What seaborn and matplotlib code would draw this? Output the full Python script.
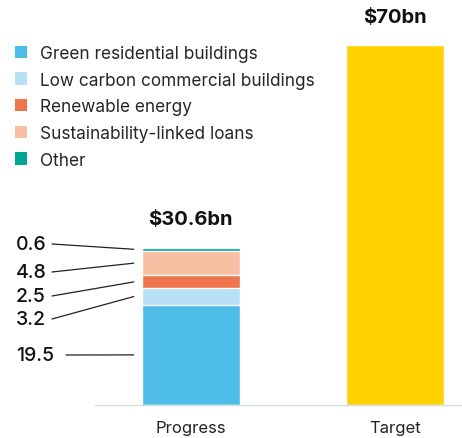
import matplotlib
matplotlib.use("Agg")
import matplotlib.pyplot as plt
from matplotlib.patches import Patch
import numpy as np
import seaborn as sns

# data
categories = ["Progress", "Target"]
segments = ["Green residential buildings", "Low carbon commercial buildings",
            "Renewable energy", "Sustainability-linked loans", "Other"]
progress_values = [19.5, 3.2, 2.5, 4.8, 0.6]
target_value = 70
total_labels = ["$30.6bn", "$70bn"]
seg_colors = ["#4dbde8", "#b8e0f5", "#ee754d", "#f8bfa3", "#00a693"]
target_color = "#ffd100"

sns.set_theme(style="white")
plt.rcParams["font.family"] = ["Inter", "DejaVu Sans"]

fig = plt.figure(figsize=(4.62, 4.39), dpi=100)
ax = fig.add_axes([95 / 462, 33 / 439, 1 - 95 / 462, 406 / 439])

# stacked bar: draw cumulative totals from biggest to smallest
cum = np.cumsum(progress_values)
for i in range(len(segments) - 1, -1, -1):
    sns.barplot(x=["Progress"], y=[cum[i]], order=categories, color=seg_colors[i],
                width=0.48, saturation=1, ax=ax)
sns.barplot(x=["Target"], y=[target_value], order=categories, color=target_color,
            width=0.48, saturation=1, ax=ax)

ax.set_xlim(-0.47, 1.33)
ax.set_ylim(0, 79)
ax.set_yticks([])
ax.set_xlabel("")
ax.set_ylabel("")
for s in ["top", "left", "right"]:
    ax.spines[s].set_visible(False)
ax.spines["bottom"].set_color("#d3dee6")
ax.spines["bottom"].set_linewidth(1)
ax.tick_params(axis="x", length=0, pad=11, labelsize=12, labelcolor="#222222")

# totals
tops = [cum[-1], target_value]
for xi, (t, lab) in enumerate(zip(tops, total_labels)):
    ax.annotate(lab, (xi, t), xytext=(0, 14), textcoords="offset points",
                ha="center", va="bottom", fontsize=14.5, fontweight="bold", color="#111111")

# segment value labels with leader lines
label_y_px = [356, 320, 297, 273, 245]  # pixel rows from image top
line_x0_px = [66, 52, 52, 52, 52]
mids = cum - np.array(progress_values) / 2
for i, v in enumerate(progress_values):
    fy = 1 - label_y_px[i] / 439
    ax.annotate(f"{v}", xy=(16 / 462, fy), xycoords="figure fraction",
                ha="left", va="center", fontsize=14, fontweight="medium", color="#111111")
    ax.annotate("", xy=(-0.28, mids[i]), xycoords="data",
                xytext=(line_x0_px[i] / 462, fy), textcoords="figure fraction",
                arrowprops=dict(arrowstyle="-", color="#222222", lw=0.9,
                                shrinkA=0, shrinkB=0))

handles = [Patch(facecolor=c, edgecolor="none") for c in seg_colors]
fig.legend(handles, segments, loc="upper left", bbox_to_anchor=(15 / 462, 1 - 46 / 439),
           frameon=False, fontsize=12.4, handlelength=0.72, handleheight=0.72,
           handletextpad=0.75, labelspacing=0.56, borderaxespad=0, borderpad=0)

fig.savefig("out.png", dpi=100)
